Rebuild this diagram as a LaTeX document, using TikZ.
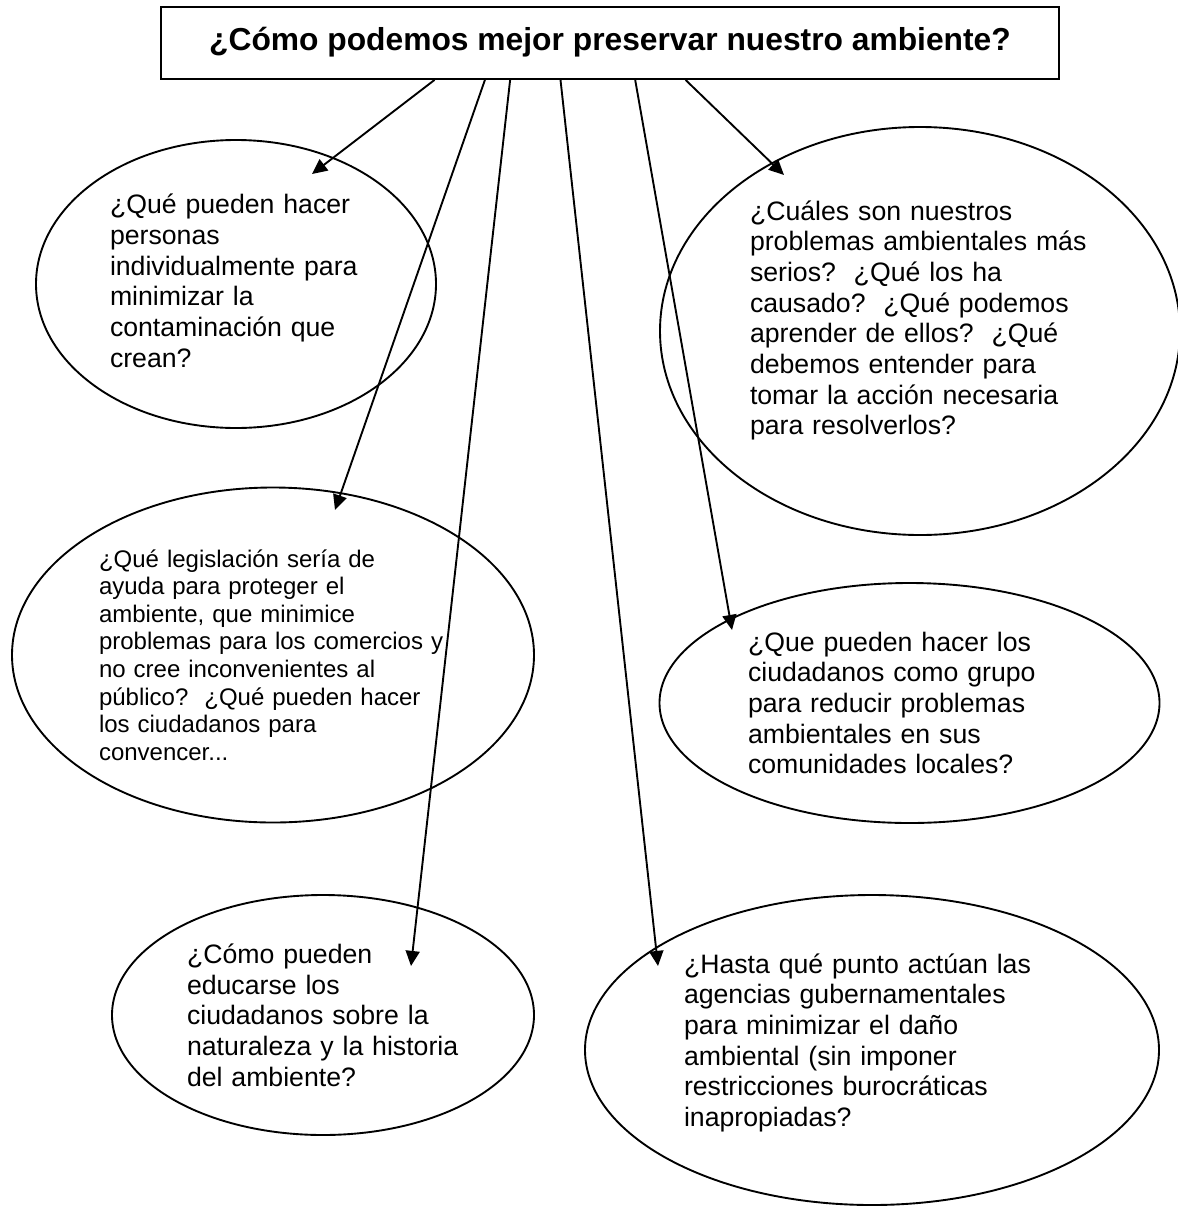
\documentclass[tikz,border=0pt]{standalone}
\usepackage{fontspec}
\setmainfont{Liberation Sans}
\usetikzlibrary{shapes.geometric,arrows.meta,calc}
\newdimen\pxu
\pxu=0.45pt
\frenchspacing

\begin{document}
\begin{tikzpicture}[x=0.45pt,y=-0.45pt,line width=0.85pt,
    main_box/.style={draw,rectangle,minimum width=898\pxu,minimum height=72\pxu,inner sep=0pt,
        font=\fontsize{14.3}{16}\selectfont\bfseries,text height=10.7pt,text depth=4pt},
    bubble/.style={draw,ellipse,inner sep=0pt,align=left,font=\fontsize{12}{13.8}\selectfont},
    arr/.style={-{Triangle[length=6.8pt,width=6.3pt]}}]

    \useasboundingbox (0,0) rectangle (1177,1206);

    \node[main_box] (c) at (610,43) {¿Cómo podemos mejor preservar nuestro ambiente?};

    \node[bubble,minimum width=400\pxu,minimum height=288\pxu,text width=252\pxu,text depth=72pt] (1) at (236,284)
        {¿Qué pueden hacer\\personas\\individualmente para\\minimizar la\\contaminación que\\crean?};
    \node[bubble,minimum width=520\pxu,minimum height=408\pxu,text width=340\pxu,text depth=108.6pt] (2) at (920,331)
        {¿Cuáles son nuestros\\problemas ambientales más\\serios?~ ¿Qué los ha\\causado?~ ¿Qué podemos\\aprender de ellos?~ ¿Qué\\debemos entender para\\tomar la acción necesaria\\para resolverlos?};
    \node[bubble,minimum width=522\pxu,minimum height=335\pxu,text width=348\pxu,
        font=\fontsize{10.8}{12.4}\selectfont] (3) at (273,655)
        {¿Qué legislación sería de\\ayuda para proteger el\\ambiente, que minimice\\problemas para los comercios y\\no cree inconvenientes al\\público?~ ¿Qué pueden hacer\\los ciudadanos para\\convencer...};
    \node[bubble,minimum width=500\pxu,minimum height=240\pxu,text width=323\pxu] (4) at (909.5,703)
        {¿Que pueden hacer los\\ciudadanos como grupo\\para reducir problemas\\ambientales en sus\\comunidades locales?};
    \node[bubble,minimum width=422\pxu,minimum height=240\pxu,text width=272\pxu] (5) at (323,1015)
        {¿Cómo pueden\\educarse los\\ciudadanos sobre la\\naturaleza y la historia\\del ambiente?};
    \node[bubble,minimum width=574\pxu,minimum height=310\pxu,text width=376\pxu,text depth=78.1pt] (6) at (872,1050)
        {¿Hasta qué punto actúan las\\agencias gubernamentales\\para minimizar el daño\\ambiental (sin imponer\\restricciones burocráticas\\inapropiadas?};

    % arrow tips
    \coordinate (t1) at (312,174);
    \coordinate (t2) at (335,510);
    \coordinate (t3) at (411,966);
    \coordinate (t4) at (658,966);
    \coordinate (t5) at (732,630);
    \coordinate (t6) at (784,175);

    \draw[arr] ($(c.south west)!0.305!(c.south east)$) -- (t1);
    \draw[arr] ($(c.south west)!0.361!(c.south east)$) -- (t2);
    \draw[arr] ($(c.south west)!0.389!(c.south east)$) -- (t3);
    \draw[arr] ($(c.south west)!0.445!(c.south east)$) -- (t4);
    \draw[arr] ($(c.south west)!0.528!(c.south east)$) -- (t5);
    \draw[arr] ($(c.south west)!0.584!(c.south east)$) -- (t6);
\end{tikzpicture}
\end{document}
